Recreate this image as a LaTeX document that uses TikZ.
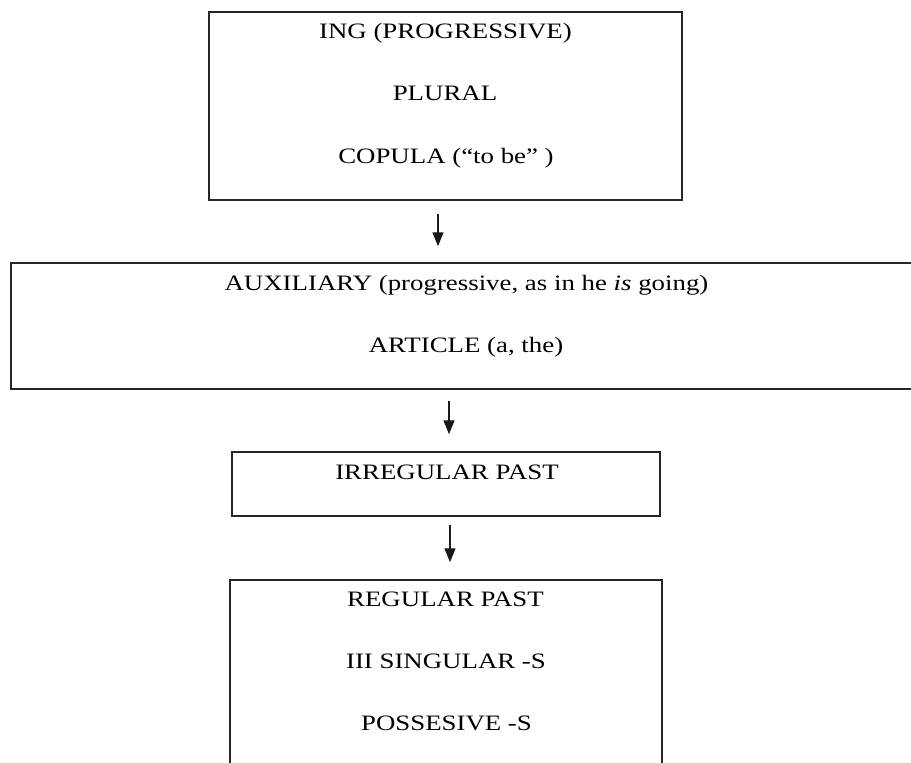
\documentclass[tikz,border=0pt]{standalone}
\usepackage{fontspec}
\setmainfont{Liberation Serif}[FakeStretch=1.22]
\usetikzlibrary{arrows.meta}
\tikzset{
  box/.style={draw=black!85, line width=1.5pt, inner sep=0pt, fill=none},
  txt/.style={inner sep=0pt, anchor=base, font=\fontsize{22}{26}\selectfont, text=black},
  arr/.style={draw=black!90, line width=1.3pt, -{Triangle[length=14pt,width=11pt]}}
}
\begin{document}
\begin{tikzpicture}[x=1pt,y=-1pt]
\useasboundingbox[fill=white] (0,0) rectangle (911,763);
% boxes
\node[box, minimum width=473pt, minimum height=188pt] (b1) at (445.5,106) {};
\node[box, minimum width=910pt, minimum height=126pt] (b2) at (466,326) {};
\node[box, minimum width=428pt, minimum height=64pt] (b3) at (446,484) {};
\node[box, minimum width=432pt, minimum height=192pt] (b4) at (446,676) {};
% texts
\node[txt] (t1) at (445.5,38) {ING (PROGRESSIVE)};
\node[txt] (t2) at (445,100) {PLURAL};
\node[txt] (t3) at (446,163) {COPULA (“to be” )};
\node[txt] (t4) at (466.5,290) {AUXILIARY (progressive, as in he \textit{is} going)};
\node[txt] (t5) at (466,352) {ARTICLE (a, the)};
\node[txt] (t6) at (447,479) {IRREGULAR PAST};
\node[txt] (t7) at (445.5,606) {REGULAR PAST};
\node[txt] (t8) at (446,668) {III SINGULAR -S};
\node[txt] (t9) at (446.5,730) {POSSESIVE -S};
% connectors
\draw[arr] ([xshift=-7.5pt,yshift=-13pt]b1.south) -- ([xshift=-28pt,yshift=16pt]b2.north);
\draw[arr] ([xshift=-17pt,yshift=-11pt]b2.south) -- ([xshift=3pt,yshift=17pt]b3.north);
\draw[arr] ([xshift=4pt,yshift=-8pt]b3.south) -- ([xshift=4pt,yshift=17pt]b4.north);
\end{tikzpicture}
\end{document}
